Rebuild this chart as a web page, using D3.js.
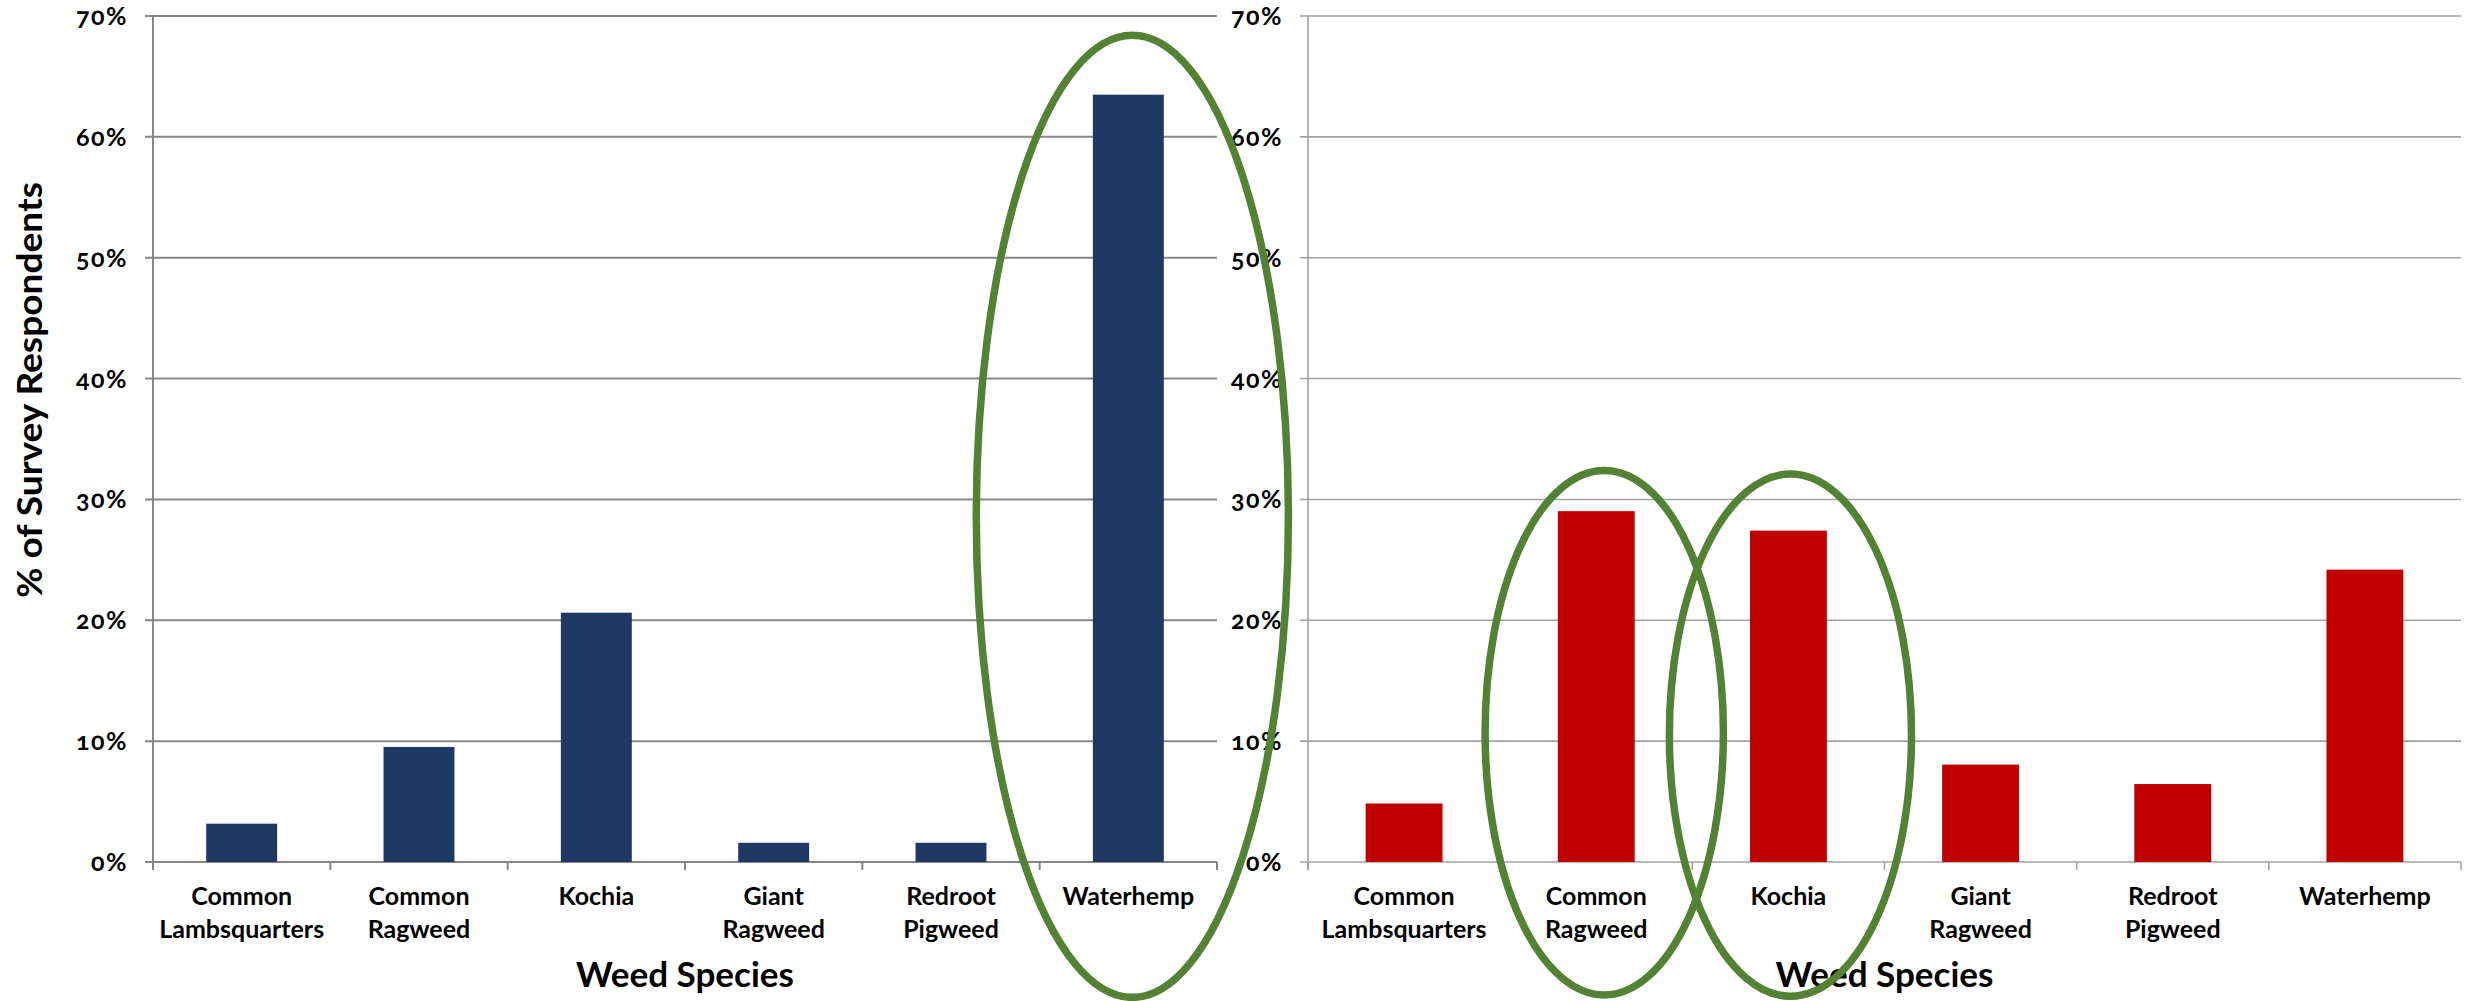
<!DOCTYPE html>
<html>
<head>
<meta charset="utf-8">
<script src="https://cdn.jsdelivr.net/npm/d3@7"></script>
<style>
  html, body { margin: 0; padding: 0; background: #ffffff; }
  svg { display: block; }
  text { font-family: Lato, "Open Sans", "DejaVu Sans", sans-serif; fill: #000; }
</style>
</head>
<body>
<svg id="chart" width="2481" height="1001"></svg>
<script>
// ---- data ----
const categories = ["Common Lambsquarters", "Common Ragweed", "Kochia", "Giant Ragweed", "Redroot Pigweed", "Waterhemp"];
const valuesLeft = [3.17, 9.52, 20.63, 1.59, 1.59, 63.49];
const valuesRight = [4.84, 29.03, 27.42, 8.06, 6.45, 24.19];
const yTickValues = [0, 10, 20, 30, 40, 50, 60, 70];
const yTickLabels = ["0%", "10%", "20%", "30%", "40%", "50%", "60%", "70%"];
const xAxisTitle = "Weed Species";
const yAxisTitle = "% of Survey Respondents";

// ---- layout ----
const W = 2481, H = 1001;
const svg = d3.select("#chart");
svg.append("rect").attr("width", W).attr("height", H).attr("fill", "#fff");

const y = d3.scaleLinear().domain([0, 70]).range([862, 16]);

function drawPanel(opts) {
  const g = svg.append("g");
  const x = d3.scaleBand().domain(categories).range([opts.x0, opts.x1]).padding(0);
  const bw = x.bandwidth();
  const barW = bw * 0.40;

  g.selectAll("line.grid").data(yTickValues).join("line")
    .attr("x1", opts.x0 - 8).attr("x2", opts.x1)
    .attr("y1", d => y(d)).attr("y2", d => y(d))
    .attr("stroke", opts.grid).attr("stroke-width", opts.gridW);

  g.append("line")
    .attr("x1", opts.x0).attr("x2", opts.x0)
    .attr("y1", y(70)).attr("y2", y(0) + 8)
    .attr("stroke", opts.grid).attr("stroke-width", opts.gridW);

  const bounds = categories.map(c => x(c)).concat([opts.x1]);
  g.selectAll("line.xtick").data(bounds).join("line")
    .attr("x1", d => d).attr("x2", d => d)
    .attr("y1", y(0)).attr("y2", y(0) + 8)
    .attr("stroke", opts.grid).attr("stroke-width", opts.gridW);

  g.selectAll("rect.bar").data(categories.map((c, i) => ({c, v: opts.values[i]}))).join("rect")
    .attr("x", d => x(d.c) + (bw - barW) / 2)
    .attr("width", barW)
    .attr("y", d => y(d.v))
    .attr("height", d => y(0) - y(d.v))
    .attr("fill", opts.color);

  g.selectAll("text.ytl").data(yTickValues).join("text")
    .attr("x", opts.x0 - 25)
    .attr("y", d => y(d))
    .attr("dy", "0.36em")
    .attr("text-anchor", "end")
    .attr("font-size", 25)
    .attr("font-weight", 700)
    .attr("letter-spacing", 1.5)
    .style("font-variant-numeric", "oldstyle-nums")
    .text((d, i) => yTickLabels[i]);

  const lab = g.selectAll("text.xl").data(categories).join("text")
    .attr("text-anchor", "middle")
    .attr("font-size", 25)
    .attr("font-weight", 700);
  lab.each(function(c) {
    const t = d3.select(this);
    c.split(" ").forEach((w, k) => {
      t.append("tspan").attr("x", x(c) + bw / 2).attr("y", 905 + k * 33).text(w);
    });
  });

  g.append("text")
    .attr("x", (opts.x0 + opts.x1) / 2)
    .attr("y", 987)
    .attr("text-anchor", "middle")
    .attr("font-size", 34)
    .attr("font-weight", 700)
    .attr("textLength", 218)
    .attr("lengthAdjust", "spacingAndGlyphs")
    .text(xAxisTitle);

  return x;
}

const xL = drawPanel({x0: 153, x1: 1217, values: valuesLeft, color: "#203864", grid: "#878787", gridW: 2});
const xR = drawPanel({x0: 1308, x1: 2461, values: valuesRight, color: "#C00000", grid: "#a3a3a3", gridW: 1.6});

svg.append("text")
  .attr("transform", "translate(30,390) rotate(-90)")
  .attr("text-anchor", "middle")
  .attr("dy", "0.35em")
  .attr("font-size", 34)
  .attr("font-weight", 700)
  .attr("textLength", 416)
  .attr("lengthAdjust", "spacingAndGlyphs")
  .text(yAxisTitle);

// ---- highlight ellipses (annotations anchored to scales) ----
const highlights = [
  {x: xL, cat: "Waterhemp", dx: 4, cyV: 28.6, ryV: 39.8, rxB: 0.88},
  {x: xR, cat: "Common Ragweed", dx: 8, cyV: 10.7, ryV: 21.7, rxB: 0.62},
  {x: xR, cat: "Kochia", dx: 2, cyV: 10.5, ryV: 21.6, rxB: 0.63}
];
const pxPerUnit = y(0) - y(1);
svg.selectAll("ellipse.hl").data(highlights).join("ellipse")
  .attr("cx", d => d.x(d.cat) + d.x.bandwidth() / 2 + d.dx)
  .attr("cy", d => y(d.cyV))
  .attr("rx", d => d.x.bandwidth() * d.rxB)
  .attr("ry", d => d.ryV * pxPerUnit)
  .attr("fill", "none")
  .attr("stroke", "#548235")
  .attr("stroke-width", 7.5);
</script>
</body>
</html>
